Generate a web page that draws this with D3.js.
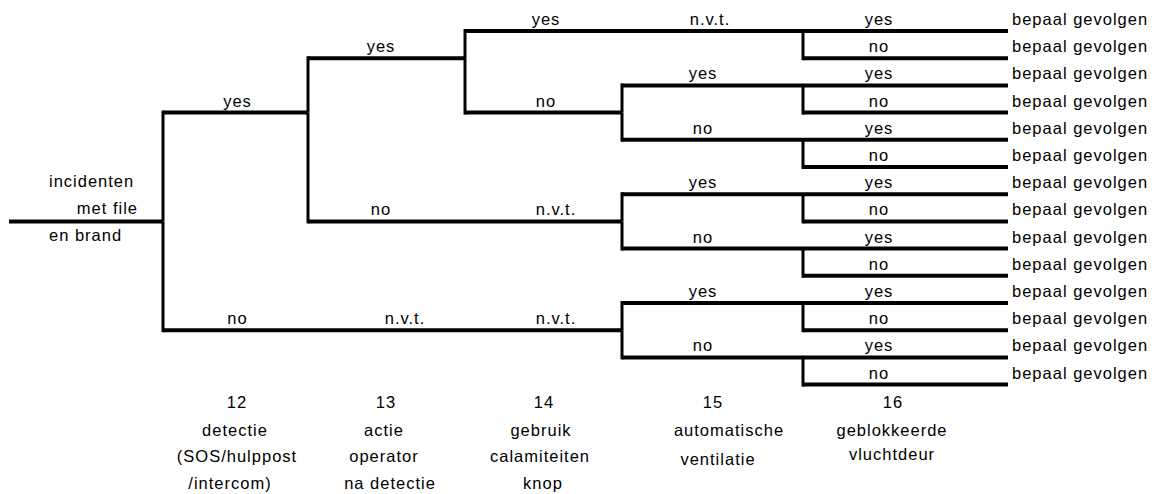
<!DOCTYPE html>
<html><head><meta charset="utf-8">
<script src="https://cdn.jsdelivr.net/npm/d3@7"></script>
<style>
body{margin:0;background:#fff}
text{font-family:"Liberation Sans",Arial,sans-serif;font-size:16.5px;letter-spacing:1px;fill:#000}
</style>
</head><body><svg id="c" width="1164" height="494"></svg>
<script>
// ---- data ----
const stages = ["12","13","14","15","16"];
const stageTitles = [
  ["12","detectie","(SOS/hulppost","/intercom)"],
  ["13","actie","operator","na detectie"],
  ["14","gebruik","calamiteiten","knop"],
  ["15","automatische","ventilatie"],
  ["16","geblokkeerde","vluchtdeur"]
];
const rootLabel = ["incidenten","met file","en brand"];
const outcomeLabel = "bepaal gevolgen";
const rootRow = 7;
// [stage index, outcome, row of branch, row of parent]
const branches = [
  [0,"yes",3,7],[0,"no",11,7],
  [1,"yes",1,3],[1,"no",7,3],[1,"n.v.t.",11,11],
  [2,"yes",0,1],[2,"no",3,1],[2,"n.v.t.",7,7],[2,"n.v.t.",11,11],
  [3,"n.v.t.",0,0],[3,"yes",2,3],[3,"no",4,3],[3,"yes",6,7],[3,"no",8,7],[3,"yes",10,11],[3,"no",12,11],
  [4,"yes",0,0],[4,"no",1,0],[4,"yes",2,2],[4,"no",3,2],[4,"yes",4,4],[4,"no",5,4],
  [4,"yes",6,6],[4,"no",7,6],[4,"yes",8,8],[4,"no",9,8],[4,"yes",10,10],[4,"no",11,10],
  [4,"yes",12,12],[4,"no",13,12]
];
const leafRows = d3.range(14);

// ---- layout ----
const x = d3.scaleLinear().domain([-1,0,1,2,3,4,5]).range([9,163,308,465,622,803,1008]);
const y = d3.scaleLinear().domain([0,13]).range([31,384.6]);
const labelCenters = [237.5,381,546,703,879];
const nvtCenters = [237.5,405,556,710,879];
const titleX = [[237,235,237,230],[386,384,384,390],[544,541,540,543],[713,729,718],[893,892,892]];
const titleY = [[407.5,435.5,462,489],[407.5,435.5,462,489],[407.5,435.5,462,489],[407.5,435.5,464.5],[407.5,435.5,460]];
const hW = 4, vW = 3, lift = 6;

const svg = d3.select("#c");
const g = svg.append("g");

// root line
g.append("line").attr("x1",x(-1)).attr("x2",x(0)).attr("y1",y(rootRow)).attr("y2",y(rootRow))
  .attr("stroke","#000").attr("stroke-width",hW);

// horizontal branch lines
g.selectAll("line.h").data(branches).join("line").attr("class","h")
  .attr("x1",d=>x(d[0])).attr("x2",d=>x(d[0]+1))
  .attr("y1",d=>y(d[2])).attr("y2",d=>y(d[2]))
  .attr("stroke","#000").attr("stroke-width",hW);

// vertical connectors
g.selectAll("line.v").data(branches.filter(d=>d[2]!==d[3])).join("line").attr("class","v")
  .attr("x1",d=>x(d[0])).attr("x2",d=>x(d[0]))
  .attr("y1",d=>y(d[3]) - (d[2]<d[3]? -0:0)).attr("y2",d=>y(d[2]) + (d[2]<d[3]? -hW/2: hW/2))
  .attr("stroke","#000").attr("stroke-width",vW);

// branch labels
g.selectAll("text.b").data(branches).join("text").attr("class","b")
  .attr("x",d=> d[1]==="n.v.t." ? nvtCenters[d[0]] : labelCenters[d[0]])
  .attr("y",d=>y(d[2]) - lift)
  .attr("text-anchor","middle").text(d=>d[1]);

// leaf outcome labels
g.selectAll("text.o").data(leafRows).join("text").attr("class","o")
  .attr("x",x(5)+4).attr("y",d=>y(d)-lift).text(outcomeLabel);

// root labels
const rootAnchor = ["start","end","start"];
const rootX = [49,138,49];
const rootY = [187,214,241];
g.selectAll("text.r").data(rootLabel).join("text").attr("class","r")
  .attr("x",(d,i)=>rootX[i]).attr("y",(d,i)=>rootY[i])
  .attr("text-anchor",(d,i)=>rootAnchor[i]).text(d=>d);

// stage titles
stageTitles.forEach((lines,si)=>{
  g.selectAll("text.t"+si).data(lines).join("text").attr("class","t"+si)
    .attr("x",(d,i)=>titleX[si][i]).attr("y",(d,i)=>titleY[si][i])
    .attr("text-anchor","middle").text(d=>d);
});
</script>
</body></html>
